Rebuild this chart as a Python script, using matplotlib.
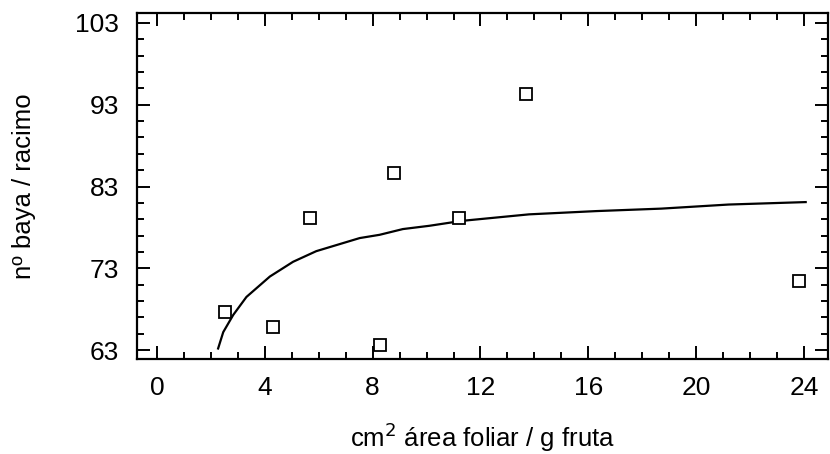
import numpy as np
import matplotlib
matplotlib.use("Agg")
import matplotlib.pyplot as plt

plt.rcParams['font.family'] = ['Liberation Sans', 'DejaVu Sans']

# observed points
area = [2.52, 4.30, 5.67, 8.26, 8.81, 11.2, 13.67, 23.8]
bayas = [67.6, 65.8, 79.1, 63.6, 84.7, 79.2, 94.3, 71.5]

# fitted curve
curve_x = [2.27, 2.46, 2.83, 3.32, 4.19, 5.05, 5.91, 7.52, 8.26, 9.12, 10.1,
           11.3, 13.8, 16.3, 18.7, 21.2, 24.06]
curve_y = [63.2, 65.2, 67.3, 69.5, 72.0, 73.8, 75.1, 76.7, 77.1, 77.8, 78.2,
           78.8, 79.6, 80.0, 80.3, 80.8, 81.1]

xticks = [0, 4, 8, 12, 16, 20, 24]
yticks = [63, 73, 83, 93, 103]

fig = plt.figure(figsize=(8.3, 4.54), dpi=100)
ax = fig.add_axes([0.165, 0.209, 0.833, 0.762])

ax.plot(curve_x, curve_y, color='black', lw=1.6)
ax.plot(area, bayas, 's', ms=9, mfc='white', mec='black', mew=1.3)

ax.set_xlim(-0.74, 24.9)
ax.set_ylim(61.9, 104.2)
ax.set_xticks(xticks)
ax.set_yticks(yticks)
ax.set_xticks(np.arange(-0, 25, 1), minor=True)
ax.set_yticks(np.arange(63, 104, 2), minor=True)

ax.tick_params(which='both', direction='in', top=True, right=True,
               labelsize=19, width=1.4, color='black')
ax.tick_params(which='major', length=9.5)
ax.tick_params(which='minor', length=5)
ax.tick_params(axis='x', pad=12)
ax.tick_params(axis='y', pad=13)
for s in ax.spines.values():
    s.set_linewidth(1.6)

ax.set_xlabel('cm$^2$ área foliar / g fruta', fontsize=18.5, labelpad=15)
ax.set_ylabel('nº baya / racimo', fontsize=18.5, labelpad=28)

fig.savefig('out.png', dpi=100)
